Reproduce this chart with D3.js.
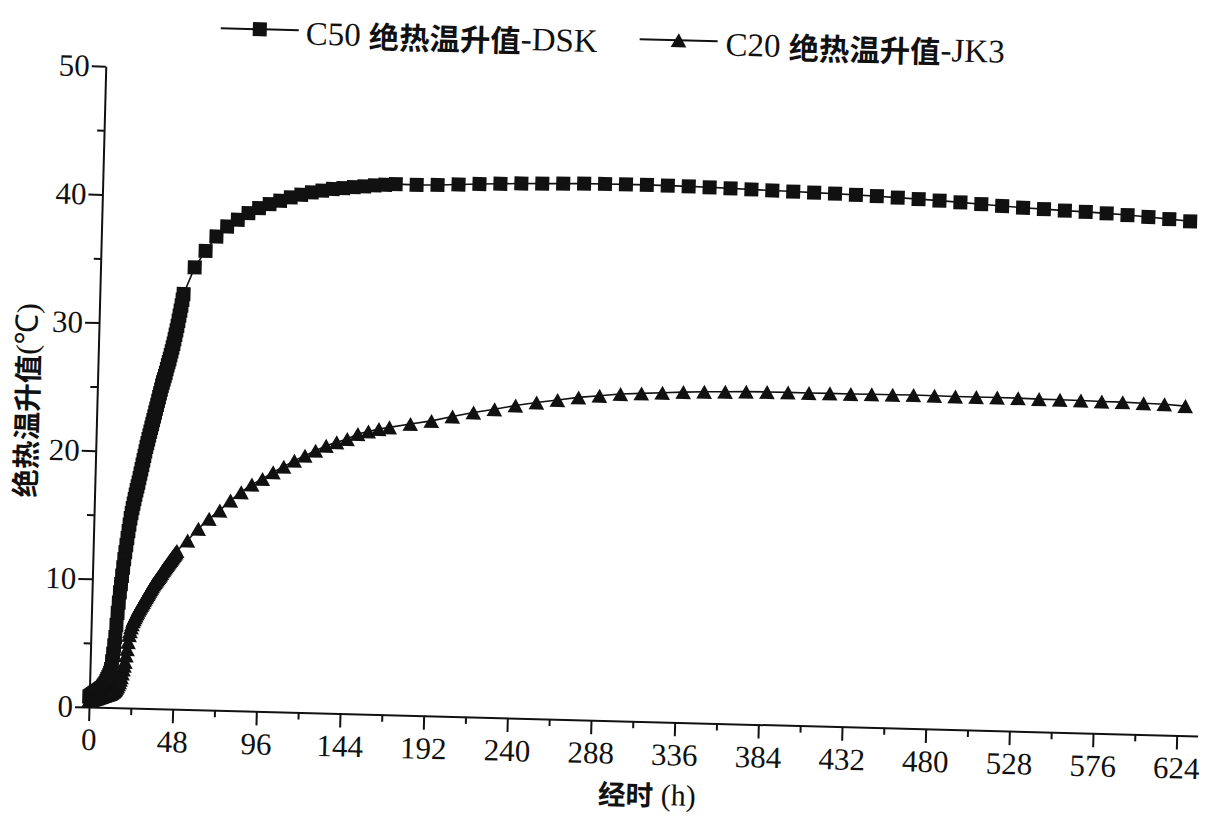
<!DOCTYPE html>
<html><head><meta charset="utf-8">
<script src="https://cdn.jsdelivr.net/npm/d3@7"></script>
<style>
html,body{margin:0;padding:0;background:#fff;}
svg{display:block;}
</style></head><body>
<svg id="chart" width="1219" height="816"></svg>
<script>
// ---- data ----
// dense readings every 0.5 h up to 48 h, then every 6 h to 168 h, then every 12 h
const hours = [0,0.5,1,1.5,2,2.5,3,3.5,4,4.5,5,5.5,6,6.5,7,7.5,8,8.5,9,9.5,10,10.5,11,11.5,12,12.5,13,13.5,14,14.5,15,15.5,16,16.5,17,17.5,18,18.5,19,19.5,20,20.5,21,21.5,22,22.5,23,23.5,24,
  24.5,25,25.5,26,26.5,27,27.5,28,28.5,29,29.5,30,30.5,31,31.5,32,32.5,33,33.5,34,34.5,35,35.5,36,36.5,37,37.5,38,38.5,39,39.5,40,40.5,41,41.5,42,42.5,43,43.5,44,44.5,45,45.5,46,46.5,47,47.5,48,
  54,60,66,72,78,84,90,96,102,108,114,120,126,132,138,144,150,156,162,168,
  180,192,204,216,228,240,252,264,276,288,300,312,324,336,348,360,372,384,396,408,420,432,444,456,468,480,492,504,516,528,540,552,564,576,588,600,612,624];
const c50Values = [0.8,0.85,0.9,0.95,1.0,1.05,1.1,1.15,1.2,1.25,1.3,1.35,1.4,1.45,1.5,1.6,1.7,1.8,1.9,2.05,2.2,2.35,2.5,2.7,3.0,3.6,4.2,4.85,5.5,6.45,7.4,8.2,9.0,9.65,10.3,10.95,11.6,12.15,12.7,13.25,13.8,14.3,14.8,15.2,15.6,15.95,16.3,16.65,17.0,
  17.3,17.6,17.95,18.3,18.65,19.0,19.35,19.7,20.05,20.4,20.7,21.0,21.3,21.6,21.9,22.2,22.5,22.8,23.1,23.4,23.7,24.0,24.3,24.6,24.9,25.2,25.45,25.7,25.95,26.2,26.5,26.8,27.05,27.3,27.6,27.9,28.2,28.5,28.85,29.2,29.55,29.9,30.3,30.7,31.1,31.5,31.95,32.4,
  34.5,35.8,36.95,37.75,38.3,38.84,39.25,39.58,39.87,40.15,40.38,40.58,40.74,40.89,40.98,41.08,41.16,41.26,41.33,41.4,
  41.38,41.42,41.5,41.58,41.64,41.7,41.74,41.78,41.82,41.84,41.85,41.85,41.84,41.82,41.79,41.75,41.71,41.67,41.63,41.59,41.55,41.5,41.44,41.37,41.3,41.22,41.13,41.03,40.93,40.84,40.77,40.7,40.64,40.57,40.48,40.37,40.25,40.12];
const c20Values = [0.5,0.52,0.55,0.58,0.6,0.62,0.65,0.68,0.7,0.72,0.75,0.78,0.8,0.82,0.85,0.88,0.9,0.92,0.95,0.98,1.0,1.02,1.05,1.08,1.1,1.15,1.2,1.25,1.3,1.37,1.45,1.57,1.7,1.85,2.0,2.2,2.4,2.7,3.0,3.3,3.6,4.1,4.6,5.15,5.7,6.0,6.3,6.55,6.8,
  6.95,7.1,7.25,7.4,7.55,7.7,7.82,7.95,8.07,8.2,8.32,8.45,8.57,8.7,8.82,8.95,9.07,9.2,9.32,9.45,9.57,9.7,9.8,9.9,10.0,10.1,10.2,10.3,10.4,10.5,10.62,10.75,10.85,10.95,11.05,11.15,11.25,11.35,11.45,11.55,11.65,11.75,11.85,11.95,12.05,12.15,12.25,12.35,
  13.18,14.12,14.92,15.59,16.39,17.06,17.68,18.14,18.68,19.14,19.63,20.04,20.45,20.86,21.15,21.43,21.84,22.06,22.27,22.42,
  22.73,23.01,23.4,23.75,24.05,24.38,24.66,24.89,25.14,25.31,25.49,25.58,25.67,25.77,25.84,25.88,25.93,25.95,25.96,25.95,25.97,25.96,25.98,25.99,26.01,26.0,25.98,25.98,25.99,25.98,25.95,25.94,25.92,25.89,25.88,25.84,25.8,25.7];
const xTickValues = [0,48,96,144,192,240,288,336,384,432,480,528,576,624];
const xMinorTicks = [24,72,120,168,216,264,312,360,408,456,504,552,600];
const yTickValues = [0,10,20,30,40,50];
const yMinorTicks = [5,15,25,35,45];
const seriesNames = ["C50 绝热温升值-DSK", "C20 绝热温升值-JK3"];
const xTitle = "经时 (h)";
const yTitle = "绝热温升值(℃)";

// ---- layout ----
const W = 1219, H = 816;
const svg = d3.select("#chart");
svg.append("rect").attr("width", W).attr("height", H).attr("fill", "#fff");
const tilt = 1.5; // the scanned page is slightly rotated
const g = svg.append("g").attr("transform", "translate(89,707) rotate(" + tilt + ")");

const x = d3.scaleLinear().domain([0, 636]).range([0, 1109]);
const y = d3.scaleLinear().domain([0, 50]).range([0, -641]);

const serif = "'Liberation Serif','Times New Roman',serif";
const cjk = "'Noto Sans CJK SC','Noto Sans CJK JP',sans-serif";

function mixedText(sel, str, size, cjkWeight) {
  const parts = str.match(/[\u4e00-\u9fff]+|[^\u4e00-\u9fff]+/g);
  parts.forEach(p => {
    const isC = /[\u4e00-\u9fff]/.test(p);
    sel.append("tspan").text(p)
      .attr("font-family", isC ? cjk : serif)
      .attr("font-weight", isC ? cjkWeight : 400)
      .attr("font-size", isC ? size * 0.92 : size);
  });
}

// axes
const xAxis = g.append("g").call(d3.axisBottom(x).tickValues(xTickValues).tickSize(14).tickSizeOuter(0));
const xMinor = g.append("g").call(d3.axisBottom(x).tickValues(xMinorTicks).tickSize(7).tickFormat(""));
xMinor.select(".domain").remove();
const yAxis = g.append("g").call(d3.axisLeft(y).tickValues(yTickValues).tickSize(14).tickSizeOuter(0));
const yMinor = g.append("g").call(d3.axisLeft(y).tickValues(yMinorTicks).tickSize(7).tickFormat(""));
yMinor.select(".domain").remove();
[xAxis, xMinor, yAxis, yMinor].forEach(a => {
  a.selectAll("path,line").attr("stroke", "#111").attr("stroke-width", 2);
});
xAxis.selectAll("text").attr("font-family", serif).attr("font-size", 31).attr("fill", "#111").attr("y", 21);
yAxis.selectAll("text").attr("font-family", serif).attr("font-size", 31).attr("fill", "#111").attr("x", -16);

// symbols
const triangleType = {
  draw(ctx, size) {
    const s = Math.sqrt(size);
    const w = s * 1.12;
    ctx.moveTo(0, -s / 2);
    ctx.lineTo(w / 2, s / 2);
    ctx.lineTo(-w / 2, s / 2);
    ctx.closePath();
  }
};
const squareSym = d3.symbol(d3.symbolSquare, 14 * 14);
const triSym = d3.symbol(triangleType, 14 * 14);

const c50 = hours.map((h, i) => ({t: h, v: c50Values[i]}));
const c20 = hours.map((h, i) => ({t: h, v: c20Values[i]}));
const line = d3.line().x(d => x(d.t)).y(d => y(d.v));

[[c50, squareSym], [c20, triSym]].forEach(([data, sym]) => {
  g.append("path").datum(data).attr("d", line).attr("fill", "none").attr("stroke", "#111").attr("stroke-width", 1.6);
  g.append("g").selectAll("path").data(data).join("path")
    .attr("d", sym)
    .attr("transform", d => "translate(" + x(d.t) + "," + y(d.v) + ")")
    .attr("fill", "#111");
});

// legend
const legendItems = [
  {name: seriesNames[0], sym: squareSym, cx: 153, tx: 199},
  {name: seriesNames[1], sym: triSym, cx: 572, tx: 619}
];
legendItems.forEach(it => {
  const lg = g.append("g").attr("transform", "translate(0,-682)");
  lg.append("line").attr("x1", it.cx - 39).attr("x2", it.cx + 39).attr("y1", 0).attr("y2", 0)
    .attr("stroke", "#111").attr("stroke-width", 2);
  lg.append("path").attr("d", it.sym).attr("transform", "translate(" + it.cx + ",0)").attr("fill", "#111");
  const t = lg.append("text").attr("x", it.tx).attr("y", 3).attr("dominant-baseline", "central").attr("fill", "#111");
  mixedText(t, it.name, 33, 700);
});

// axis titles
const xt = g.append("text").attr("x", 560).attr("y", 72).attr("text-anchor", "middle")
  .attr("dominant-baseline", "central").attr("fill", "#111");
mixedText(xt, xTitle, 30, 700);
const yt = g.append("text").attr("transform", "translate(-72,-305) rotate(-90)").attr("text-anchor", "middle")
  .attr("dominant-baseline", "central").attr("fill", "#111");
mixedText(yt, yTitle, 31, 700);
</script>
</body></html>
